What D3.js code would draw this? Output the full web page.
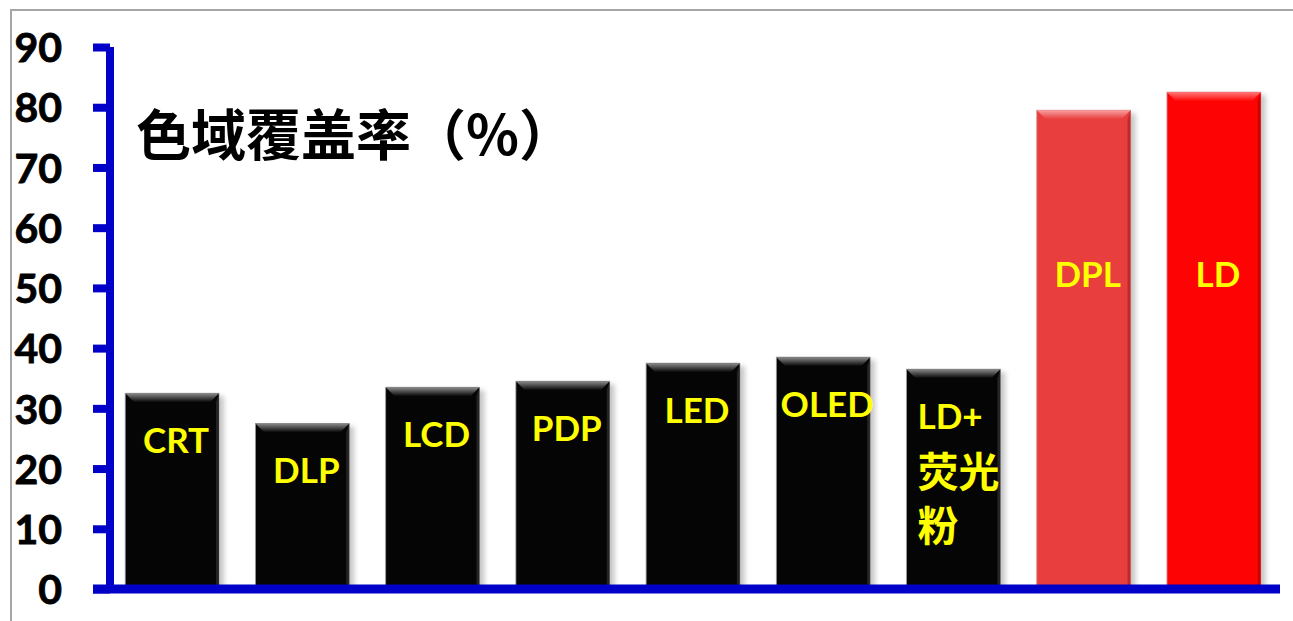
<!DOCTYPE html>
<html>
<head>
<meta charset="utf-8">
<script src="https://cdn.jsdelivr.net/npm/d3@7/dist/d3.min.js"></script>
<style>
  html, body { margin: 0; padding: 0; background: #fff; }
  svg { display: block; }
</style>
</head>
<body>
<svg id="chart" width="1293" height="621"></svg>
<script>
// Colour-gamut coverage by display technology (%)
const categories = ["CRT", "DLP", "LCD", "PDP", "LED", "OLED", "LD+荧光粉", "DPL", "LD"];
const labelLines = [["CRT"], ["DLP"], ["LCD"], ["PDP"], ["LED"], ["OLED"], ["LD+", "荧光", "粉"], ["DPL"], ["LD"]];
const coverage = [32.5, 27.5, 33.5, 34.5, 37.5, 38.5, 36.5, 79.5, 82.5];
const barKind = ["dark", "dark", "dark", "dark", "dark", "dark", "dark", "coral", "red"];
const yTicks = [0, 10, 20, 30, 40, 50, 60, 70, 80, 90];
const title = "色域覆盖率（%）";

const W = 1293, H = 621;
const svg = d3.select("#chart");
const axisBlue = "#0000c8";

const palette = {
  dark:  { base: "#050505", hi: "#8c8c8c", edge: "#2a2a2a", outline: "#9a9a9a" },
  coral: { base: "#e83e3e", hi: "#f7a0a0", edge: "#b82424", outline: "#d88a8a" },
  red:   { base: "#fe0303", hi: "#ff7a7a", edge: "#c00000", outline: "#e08080" }
};

const x = d3.scaleBand().domain(categories).range([107, 1279])
  .paddingInner(0.28).paddingOuter(0.14);
const y = d3.scaleLinear().domain([0, 90]).range([589, 47]);

// frame lines along the top and left
svg.append("path").attr("d", `M11,${H} V10 H${W}`)
  .attr("fill", "none").attr("stroke", "#a6a6a6").attr("stroke-width", 2);

const defs = svg.append("defs");
defs.append("filter").attr("id", "soft").attr("x", "-20%").attr("y", "-20%")
  .attr("width", "140%").attr("height", "140%")
  .append("feGaussianBlur").attr("stdDeviation", 2.5);
Object.entries(palette).forEach(([k, c]) => {
  const g = defs.append("linearGradient").attr("id", "bevel-" + k)
    .attr("x1", 0).attr("y1", 0).attr("x2", 0).attr("y2", 1);
  g.append("stop").attr("offset", "0%").attr("stop-color", c.hi);
  g.append("stop").attr("offset", "100%").attr("stop-color", c.base);
});

// bars
const bw = x.bandwidth();
const b = 9; // bevel depth
const bars = svg.append("g").selectAll("g").data(categories).join("g");
bars.each(function (d, i) {
  const g = d3.select(this);
  const c = palette[barKind[i]];
  const x0 = x(d), x1 = x0 + bw, top = y(coverage[i]), bot = y(0);
  g.append("rect").attr("x", x0 + 3).attr("y", top + 3).attr("width", bw + 2)
    .attr("height", bot - top - 3).attr("fill", "#9a9a9a").attr("opacity", 0.55)
    .attr("filter", "url(#soft)");
  g.append("rect").attr("x", x0).attr("y", top).attr("width", bw)
    .attr("height", bot - top).attr("fill", c.base)
    .attr("stroke", c.outline).attr("stroke-width", 0.8);
  g.append("path")
    .attr("d", `M${x0},${top} H${x1} L${x1 - b},${top + b} H${x0 + b} Z`)
    .attr("fill", `url(#bevel-${barKind[i]})`);
  g.append("path")
    .attr("d", `M${x1},${top} L${x1 - 3},${top + b} V${bot} H${x1} Z`)
    .attr("fill", c.edge).attr("opacity", 0.8);
});

// labels inside the bars
const labels = svg.append("g").selectAll("text").data(categories).join("text")
  .attr("fill", "#ffff00")
  .attr("font-family", "Lato, 'Noto Sans CJK SC', sans-serif")
  .attr("font-weight", 700)
  .attr("font-size", 35);
labels.each(function (d, i) {
  const t = d3.select(this);
  const lines = labelLines[i];
  const isDark = barKind[i] === "dark";
  const cy = isDark ? y(coverage[i]) + 45.5 : y(52.5);
  if (lines.length === 1) {
    t.attr("x", x(d) + bw / 2 + 4).attr("y", cy).attr("text-anchor", "middle")
      .attr("dominant-baseline", "central").text(lines[0]);
  } else {
    t.attr("text-anchor", "start");
    lines.forEach((ln, j) => {
      const cjk = /[\u4e00-\u9fff]/.test(ln);
      t.append("tspan").attr("x", x(d) + 11).attr("y", cy + j * 54)
        .attr("dominant-baseline", "central")
        .attr("font-family", cjk ? "'Noto Sans CJK SC', sans-serif" : null)
        .attr("font-size", cjk ? 41 : null)
        .text(ln);
    });
  }
});

// y axis
const yAxis = svg.append("g").attr("transform", "translate(110,0)")
  .call(d3.axisLeft(y).tickValues(yTicks).tickSize(17).tickPadding(31));
yAxis.select(".domain").attr("stroke", axisBlue).attr("stroke-width", 8)
  .attr("d", `M0,${y(90)} V${y(0) + 4}`);
yAxis.selectAll(".tick line").attr("stroke", axisBlue).attr("stroke-width", 8);
yAxis.selectAll(".tick text").attr("fill", "#000")
  .attr("font-family", "Lato, sans-serif").attr("font-weight", 700)
  .attr("font-size", 41).attr("dy", "0.36em")
  .attr("stroke", "#000").attr("stroke-width", 0.8);

// x axis baseline
svg.append("line").attr("x1", 93).attr("x2", 1280)
  .attr("y1", y(0)).attr("y2", y(0))
  .attr("stroke", axisBlue).attr("stroke-width", 9);

// title
svg.append("text").attr("x", 136).attr("y", 131)
  .attr("dominant-baseline", "central")
  .attr("font-family", "'Noto Sans CJK SC', sans-serif")
  .attr("font-weight", 700).attr("font-size", 55)
  .text(title);
</script>
</body>
</html>
